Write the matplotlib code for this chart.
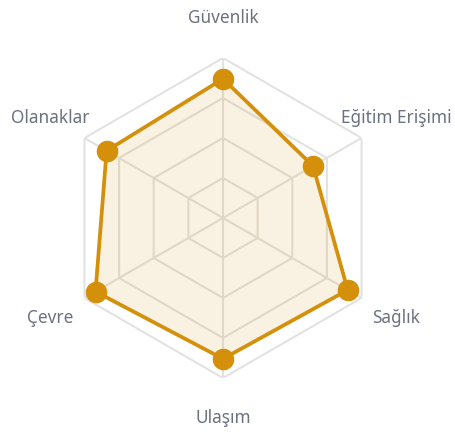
import numpy as np
import matplotlib.pyplot as plt

categories = ['Güvenlik', 'Eğitim Erişimi', 'Sağlık', 'Ulaşım', 'Çevre', 'Olanaklar']
values = [8.7, 6.5, 9.0, 8.8, 9.2, 8.4]
rmax = 10
levels = [2.5, 5, 7.5, 10]

plt.rcParams['font.family'] = ['Noto Sans', 'DejaVu Sans']

line_color = '#d4900b'
grid_color = '#e2e2e2'
label_color = '#6b7280'

fig = plt.figure(figsize=(4.56, 4.36), dpi=100)
ax = fig.add_axes([63 / 456, 58 / 436, 320 / 456, 320 / 436], polar=True)
ax.set_theta_offset(np.pi / 2)
ax.set_theta_direction(-1)

n = len(categories)
angles = np.linspace(0, 2 * np.pi, n, endpoint=False)
closed = np.concatenate([angles, angles[:1]])

# hexagonal grid
for lv in levels:
    ax.plot(closed, [lv] * (n + 1), color=grid_color, lw=1.5, zorder=1)
for a in angles:
    ax.plot([a, a], [0, rmax], color=grid_color, lw=1.5, zorder=1)

vals = values + values[:1]
ax.fill(closed, vals, color=line_color, alpha=0.12, zorder=2, lw=0)
ax.plot(closed, vals, color=line_color, lw=2.7, zorder=3)
ax.plot(angles, values, 'o', color=line_color, ms=14.5, zorder=4)

for a, name in zip(angles, categories):
    ax.text(a, 12.5, name, ha='center', va='center', fontsize=12.4, color=label_color)

ax.set_ylim(0, rmax)
ax.set_xticks([])
ax.set_yticks([])
ax.grid(False)
ax.spines['polar'].set_visible(False)
ax.patch.set_alpha(0)

fig.savefig('out.png', dpi=100)
